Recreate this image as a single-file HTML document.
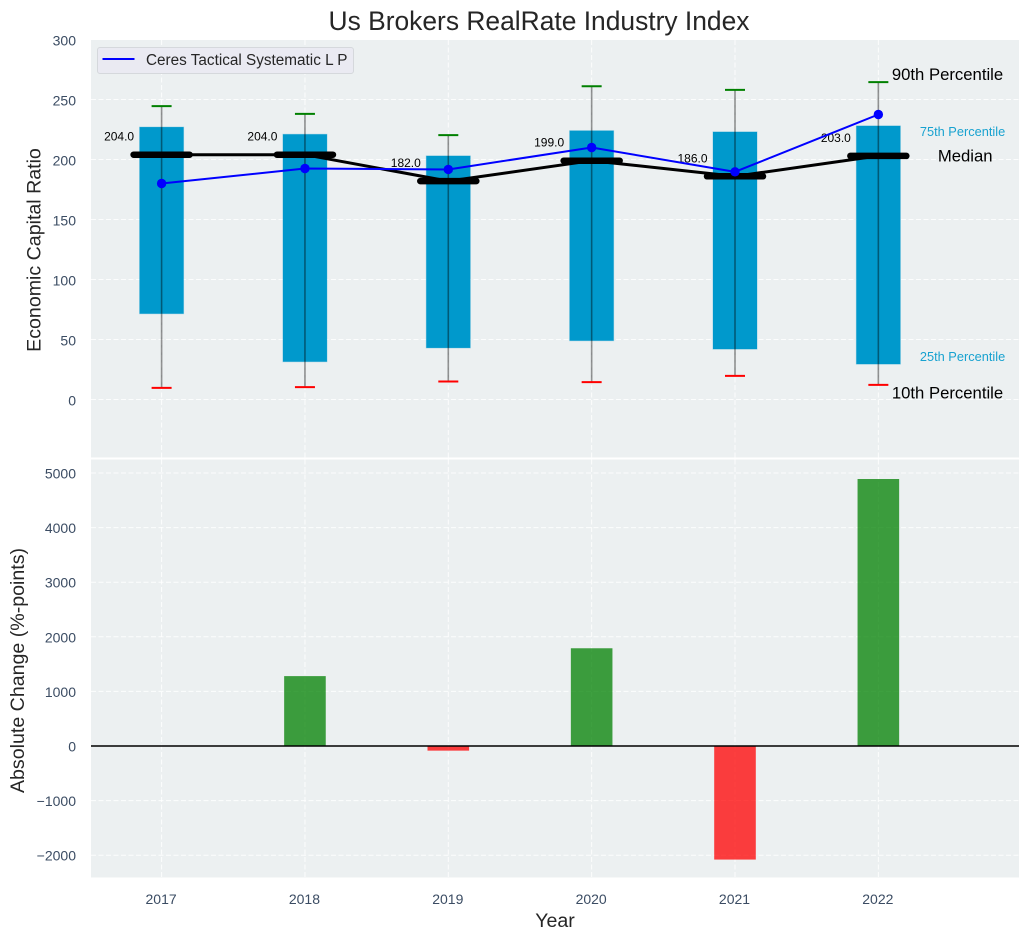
<!DOCTYPE html>
<html>
<head>
<meta charset="utf-8">
<title>Us Brokers RealRate Industry Index</title>
<style>
html,body{margin:0;padding:0;background:#fff;}
svg{display:block;font-family:"Liberation Sans",Arial,sans-serif;}
</style>
</head>
<body>
<svg id="chart" width="1029" height="940" viewBox="0 0 1029 940" xmlns="http://www.w3.org/2000/svg"></svg>
<script>
const years = ['2017','2018','2019','2020','2021','2022'];
const p10 = [9.7,10.3,15,14.5,19.7,12.2];
const p25 = [71.5,31.5,43,49,42,29.5];
const median = [204,204,182,199,186,203];
const p75 = [227,221,203,224,223,228];
const p90 = [244.5,238,220.3,261,258,264.5];
const company = [180,192.5,191.7,210,189.7,237.5];
const absChange = [0,1280,-85,1790,-2080,4890];
const topTicks = [0,50,100,150,200,250,300];
const bottomTicks = [-2000,-1000,0,1000,2000,3000,4000,5000];
const companyName = 'Ceres Tactical Systematic L P';

const svg = document.getElementById('chart');
const NS = 'http://www.w3.org/2000/svg';
function mk(tag, attrs, text){
  const el = document.createElementNS(NS, tag);
  for (const k in attrs) el.setAttribute(k, attrs[k]);
  if (text !== undefined) el.textContent = text;
  svg.appendChild(el);
  return el;
}
const X = i => 161.6 + 143.35 * i;
const YT = v => 399.5 - 1.2 * v;
const YB = v => 746 - 0.0546 * v;
const left = 91, right = 1019;
let el;

el = mk('text',{x:539,y:30,'text-anchor':'middle','font-size':26.4,fill:'#262626'},'Us Brokers RealRate Industry Index');



el = mk('rect',{x:left,y:40,width:right-left,height:417.5,fill:'#ecf0f1'});


el = mk('rect',{x:left,y:459.5,width:right-left,height:418,fill:'#ecf0f1'});



const gridStyle = {stroke:'#ffffff','stroke-width':1,'stroke-dasharray':'5 2.5','stroke-opacity':0.85,fill:'none'};
topTicks.forEach(t => {
  const y = YT(t);
  if (t !== 300) {
    el = mk('line',Object.assign({x1:left,x2:right,y1:y,y2:y},gridStyle));
    
    
  }
  el = mk('text',{x:76,y:y+6,'text-anchor':'end','font-size':14,fill:'#3b4c63'},String(t));
  
  
});
bottomTicks.forEach(t => {
  const y = YB(t);
  el = mk('line',Object.assign({x1:left,x2:right,y1:y,y2:y},gridStyle));
  
  
  el = mk('text',{x:76,y:y+5.5,'text-anchor':'end','font-size':14,fill:'#3b4c63'},String(t).replace('-','\u2212'));
  
  
});
years.forEach((yr,i) => {
  const x = X(i);
  el = mk('line',Object.assign({x1:x,x2:x,y1:40,y2:457.5},gridStyle));
  
  
  el = mk('line',Object.assign({x1:x,x2:x,y1:459.5,y2:877.5},gridStyle));
  
  
  el = mk('text',{x:x-0.5,y:904,'text-anchor':'middle','font-size':14,fill:'#3b4c63'},yr);
  
  
});

years.forEach((yr,i) => {
  const x = X(i), w = 44;
  el = mk('rect',{x:x-w/2,y:YT(p75[i]),width:w,height:YT(p25[i])-YT(p75[i]),fill:'#0099cc',stroke:'#0099cc','stroke-opacity':0.3,'stroke-width':1});
  
  
  el = mk('line',{x1:x,x2:x,y1:YT(p90[i]),y2:YT(p10[i]),stroke:'#000','stroke-opacity':0.42,'stroke-width':1.6});
  
  
  el = mk('line',{x1:x-10,x2:x+10,y1:YT(p90[i]),y2:YT(p90[i]),stroke:'#008000','stroke-width':2});
  
  
  el = mk('line',{x1:x-10,x2:x+10,y1:YT(p10[i]),y2:YT(p10[i]),stroke:'#ff0000','stroke-width':2});
  
  
});

el = mk('polyline',{points:median.map((v,i)=>X(i)+','+YT(v)).join(' '),fill:'none',stroke:'#000','stroke-width':3,'stroke-linejoin':'round'});


median.forEach((v,i) => {
  el = mk('line',{x1:X(i)-28,x2:X(i)+28,y1:YT(v),y2:YT(v),stroke:'#000','stroke-width':6.5,'stroke-linecap':'round'});
  
  
  el = mk('text',{x:X(i)-27.5,y:YT(v)-14,'text-anchor':'end','font-size':12,fill:'#000'},v.toFixed(1));
  
  
});

el = mk('polyline',{points:company.map((v,i)=>X(i)+','+YT(v)).join(' '),fill:'none',stroke:'#0000ff','stroke-width':2,'stroke-linejoin':'round'});


company.forEach((v,i) => {
  el = mk('circle',{cx:X(i),cy:YT(v),r:4.7,fill:'#0000ff'});
  
  
});

const last = years.length - 1;
el = mk('text',{x:X(last)+13.5,y:YT(p90[last])-2,'font-size':16.7,fill:'#000'},'90th Percentile');


el = mk('text',{x:X(last)+41.5,y:YT(p75[last])+10,'font-size':12.8,fill:'#0099cc','fill-opacity':0.9},'75th Percentile');


el = mk('text',{x:X(last)+59.5,y:YT(median[last])+5.5,'font-size':16.7,fill:'#000'},'Median');


el = mk('text',{x:X(last)+41.5,y:YT(p25[last])-3,'font-size':12.8,fill:'#0099cc','fill-opacity':0.9},'25th Percentile');


el = mk('text',{x:X(last)+13.5,y:YT(p10[last])+13.5,'font-size':16.7,fill:'#000'},'10th Percentile');



el = mk('rect',{x:97.5,y:47.5,width:256,height:26,rx:2.5,fill:'#eaeaf2','stroke':'#d5d8dc','stroke-width':1});


el = mk('line',{x1:102.5,x2:134.5,y1:59,y2:59,stroke:'#0000ff','stroke-width':2});


el = mk('text',{x:146,y:65,'font-size':15.3,fill:'#262626'},companyName);



absChange.forEach((v,i) => {
  if (v === 0) return;
  const y0 = YB(Math.max(v,0)), y1 = YB(Math.min(v,0));
  el = mk('rect',{x:X(i)-20.8,y:y0,width:41.6,height:y1-y0,fill:v>0?'#008000':'#ff0000','fill-opacity':0.75});
  
  
});
el = mk('line',{x1:left,x2:right,y1:YB(0),y2:YB(0),stroke:'#000','stroke-width':1.5});



el = mk('text',{transform:'translate(40.5,250) rotate(-90)','text-anchor':'middle','font-size':19.6,fill:'#262626'},'Economic Capital Ratio');


el = mk('text',{transform:'translate(24,670.5) rotate(-90)','text-anchor':'middle','font-size':19.6,fill:'#262626'},'Absolute Change (%-points)');


el = mk('text',{x:555,y:927,'text-anchor':'middle','font-size':19.6,fill:'#262626'},'Year');


</script>
</body>
</html>
